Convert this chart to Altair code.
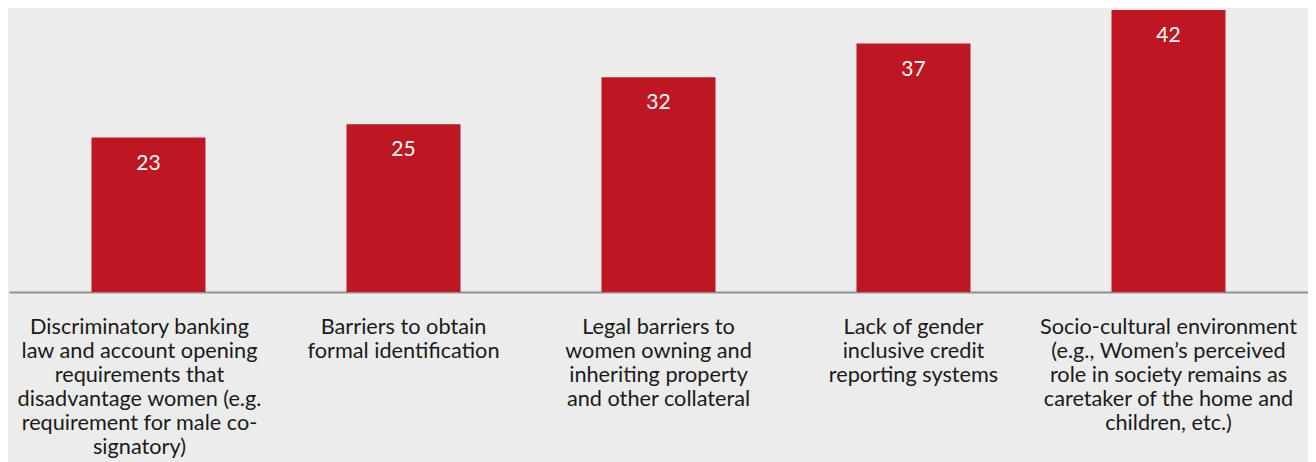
import altair as alt
import pandas as pd

categories = [
    "Discriminatory banking|law and account opening|requirements that|disadvantage women (e.g.|requirement for male co-|signatory)",
    "Barriers to obtain|formal identification",
    "Legal barriers to|women owning and|inheriting property|and other collateral",
    "Lack of gender|inclusive credit|reporting systems",
    "Socio-cultural environment|(e.g., Women’s perceived|role in society remains as|caretaker of the home and|children, etc.)",
]
values = [23, 25, 32, 37, 42]

df = pd.DataFrame({"cat": categories, "val": values})

FONT = "Lato"
RED = "#be1622"

x = alt.X(
    "cat:N",
    sort=categories,
    scale=alt.Scale(paddingInner=0.553, paddingOuter=0.3235, align=0.5),
    axis=alt.Axis(
        title=None,
        labelAngle=0,
        labelExpr="split(datum.label, '|')",
        labelFont=FONT,
        labelFontSize=21.7,
        labelColor="#1a1a1a",
        labelLineHeight=24,
        labelBaseline="alphabetic",
        labelPadding=41,
        labelLimit=400,
        labelOffset={"condition": {"test": "datum.index === 0", "value": -9}, "value": 0},
        ticks=False,
        tickSize=0,
        domainColor="#8f8f8f",
        domainWidth=2,
        grid=False,
    ),
)
y = alt.Y(
    "val:Q",
    scale=alt.Scale(domain=[0, 42.3], nice=False, zero=True),
    axis=None,
)

bars = alt.Chart(df).mark_bar(color=RED).encode(x=x, y=y)
labels = alt.Chart(df).mark_text(
    color="white", font=FONT, fontSize=21, baseline="middle", dy=26
).encode(x=alt.X("cat:N", sort=categories), y="val:Q", text="val:Q")

chart = (
    alt.layer(bars, labels)
    .properties(
        width=1299,
        height=284,
        autosize=alt.AutoSizeParams(type="none"),
        padding={"left": 1, "top": 0, "right": 0, "bottom": 170},
        background="#ececec",
    )
    .configure_view(stroke=None)
)

chart.save("out.html", embed_options={"renderer": "svg", "actions": False})
